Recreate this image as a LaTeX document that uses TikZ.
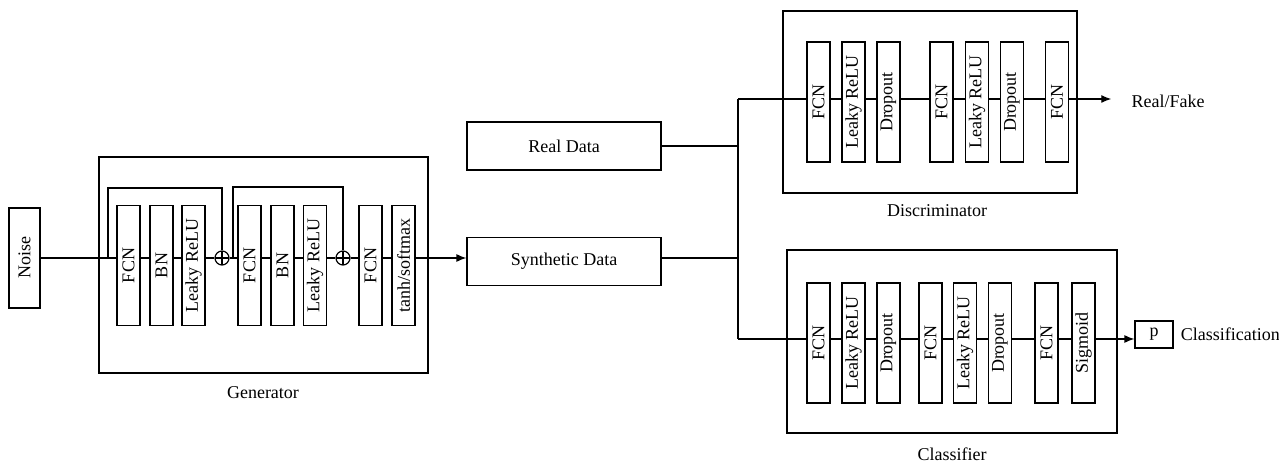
\documentclass[tikz,border=0pt]{standalone}
\usepackage{fontspec}
\setmainfont{Liberation Serif}
\usepackage{graphicx}
\usetikzlibrary{arrows.meta, positioning}
\newcommand{\vlabel}[1]{\rotatebox{90}{#1}}

\begin{document}
\begin{tikzpicture}[x=0.5pt, y=-0.5pt, line width=0.6pt,
		font=\fontsize{9}{10}\selectfont,
		layer/.style={draw, inner sep=0pt, minimum width=11.5pt, minimum height=60pt},
		frame/.style={draw, inner sep=0pt},
		databox/.style={draw, minimum width=97pt, minimum height=24pt},
		addop/.style={draw, circle, inner sep=0pt, minimum size=7pt,
			path picture={\draw (path picture bounding box.north) -- (path picture bounding box.south)
				(path picture bounding box.west) -- (path picture bounding box.east);}},
		flow/.style={-{Latex[length=5pt,width=4pt]}}]
	\useasboundingbox (0,0) rectangle (1279,464);
	
	% Input
	\node[draw, inner sep=0pt, minimum width=15.5pt, minimum height=50pt] (noise) at (24.5,258) {\vlabel{Noise}};
	
	% Generator
	\node[frame, minimum width=164.5pt, minimum height=108pt] (gen) at (263.5,265) {};
	\node (genlbl) at (263,393) {Generator};
	\node[layer] (g1) at (128.5,265.5) {\vlabel{FCN}};
	\node[layer] (g2) at (161.5,265.5) {\vlabel{BN}};
	\node[layer] (g3) at (193.5,265.5) {\vlabel{Leaky ReLU}};
	\node[addop] (add1) at (222,258) {};
	\node[layer] (g4) at (249.5,265.5) {\vlabel{FCN}};
	\node[layer] (g5) at (282.5,265.5) {\vlabel{BN}};
	\node[layer] (g6) at (315,265.5) {\vlabel{Leaky ReLU}};
	\node[addop] (add2) at (343,258) {};
	\node[layer] (g7) at (370.5,265.5) {\vlabel{FCN}};
	\node[layer] (g8) at (403.5,265.5) {\vlabel{tanh/softmax}};
	
	\coordinate (gl) at (0,258);
	\coordinate (gin) at (108,258);
	\coordinate (gmid) at (233,258);
	\draw (noise) -- (gin);
	\draw (gin) -- (g1.west |- gl);
	\draw (g1.east |- gl) -- (g2.west |- gl);
	\draw (g2.east |- gl) -- (g3.west |- gl);
	\draw (g3.east |- gl) -- (add1);
	\draw (add1) -- (g4.west |- gl);
	\draw (g4.east |- gl) -- (g5.west |- gl);
	\draw (g5.east |- gl) -- (g6.west |- gl);
	\draw (g6.east |- gl) -- (add2);
	\draw (add2) -- (g7.west |- gl);
	\draw (g7.east |- gl) -- (g8.west |- gl);
	
	% Skip connections
	\draw (gin) -- ++(0,-70) -| (add1.north);
	\draw (gmid) -- ++(0,-71) -| (add2.north);
	
	% Data
	\node[databox] (real) at (564,146) {Real Data};
	\node[databox] (synth) at (564,261.5) {Synthetic Data};
	\draw[flow] (g8.east |- gl) -- (synth.west |- gl);
	
	\coordinate (jtop) at (738,99);
	\coordinate (jbot) at (738,339);
	\draw (jtop) -- (jbot);
	\draw (real) -- (real -| jtop);
	\draw (synth.east |- gl) -- (gl -| jtop);
	
	% Discriminator
	\node[frame, minimum width=147pt, minimum height=91pt] (disc) at (930,102) {};
	\node (disclbl) at (937,211) {Discriminator};
	\node[layer] (d1) at (818.5,102) {\vlabel{FCN}};
	\node[layer] (d2) at (853.5,102) {\vlabel{Leaky ReLU}};
	\node[layer] (d3) at (888.5,102) {\vlabel{Dropout}};
	\node[layer] (d4) at (941.5,102) {\vlabel{FCN}};
	\node[layer] (d5) at (977,102) {\vlabel{Leaky ReLU}};
	\node[layer] (d6) at (1012,102) {\vlabel{Dropout}};
	\node[layer] (d7) at (1057,102) {\vlabel{FCN}};
	\node (rf) at (1168,101) {Real/Fake};
	
	\coordinate (dl) at (0,99);
	\draw (jtop) -- (d1.west |- dl);
	\draw (d1.east |- dl) -- (d2.west |- dl);
	\draw (d2.east |- dl) -- (d3.west |- dl);
	\draw (d3.east |- dl) -- (d4.west |- dl);
	\draw (d4.east |- dl) -- (d5.west |- dl);
	\draw (d5.east |- dl) -- (d6.west |- dl);
	\draw (d6.east |- dl) -- (d7.west |- dl);
	\draw[flow, shorten >=6.5pt] (d7.east |- dl) -- (rf.west |- dl);
	
	% Classifier
	\node[frame, minimum width=165pt, minimum height=91.5pt] (cls) at (952,341.5) {};
	\node (clslbl) at (952,454) {Classifier};
	\node[layer] (c1) at (818.5,343) {\vlabel{FCN}};
	\node[layer] (c2) at (853.5,343) {\vlabel{Leaky ReLU}};
	\node[layer] (c3) at (888.5,343) {\vlabel{Dropout}};
	\node[layer] (c4) at (930.5,343) {\vlabel{FCN}};
	\node[layer] (c5) at (965,343) {\vlabel{Leaky ReLU}};
	\node[layer] (c6) at (1000,343) {\vlabel{Dropout}};
	\node[layer] (c7) at (1046.5,343) {\vlabel{FCN}};
	\node[layer] (c8) at (1083.5,343) {\vlabel{Sigmoid}};
	\node[draw, inner sep=0pt, minimum width=19pt, minimum height=13.5pt] (p) at (1154,334.5) {p};
	\node[right=0pt of p] (clsout) {Classification};
	
	\coordinate (cl) at (0,339);
	\draw (jbot) -- (c1.west |- cl);
	\draw (c1.east |- cl) -- (c2.west |- cl);
	\draw (c2.east |- cl) -- (c3.west |- cl);
	\draw (c3.east |- cl) -- (c4.west |- cl);
	\draw (c4.east |- cl) -- (c5.west |- cl);
	\draw (c5.east |- cl) -- (c6.west |- cl);
	\draw (c6.east |- cl) -- (c7.west |- cl);
	\draw (c7.east |- cl) -- (c8.west |- cl);
	\draw[flow] (c8.east |- cl) -- (p.west |- cl);
\end{tikzpicture}
\end{document}
